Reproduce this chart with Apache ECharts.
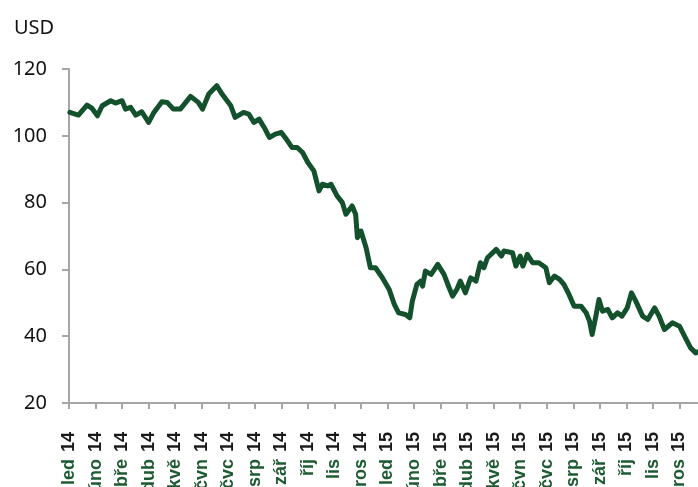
<!DOCTYPE html>
<html>
<head>
<meta charset="utf-8">
<script src="https://cdn.jsdelivr.net/npm/echarts@6/dist/echarts.min.js"></script>
<style>
    html, body { margin: 0; padding: 0; background: #fff; }
    #chart { width: 698px; height: 487px; }
</style>
</head>
<body>
<div id="chart"></div>
<script>
// mesice (cesky), roky
var monthNames = ['led', 'úno', 'bře', 'dub', 'kvě', 'čvn', 'čvc', 'srp', 'zář', 'říj', 'lis', 'pros'];
var startYear = 2014;

// cena ropy Brent, USD
var dates = [
    '2014-01-02', '2014-01-12', '2014-01-22', '2014-01-28', '2014-02-03', '2014-02-08', '2014-02-17', '2014-02-22',
    '2014-03-01', '2014-03-05', '2014-03-11', '2014-03-17', '2014-03-24', '2014-04-01', '2014-04-07', '2014-04-16',
    '2014-04-22', '2014-04-29', '2014-05-07', '2014-05-19', '2014-05-28', '2014-06-02', '2014-06-09', '2014-06-18',
    '2014-06-24', '2014-07-04', '2014-07-09', '2014-07-19', '2014-07-25', '2014-07-31', '2014-08-06', '2014-08-12',
    '2014-08-18', '2014-08-25', '2014-09-01', '2014-09-08', '2014-09-13', '2014-09-19', '2014-09-25', '2014-10-01',
    '2014-10-08', '2014-10-14', '2014-10-18', '2014-10-24', '2014-10-28', '2014-11-04', '2014-11-10', '2014-11-14',
    '2014-11-21', '2014-11-25', '2014-11-27', '2014-12-01', '2014-12-07', '2014-12-12', '2014-12-18', '2014-12-26',
    '2015-01-03', '2015-01-09', '2015-01-14', '2015-01-22', '2015-01-27', '2015-01-30', '2015-02-04', '2015-02-08',
    '2015-02-10', '2015-02-13', '2015-02-19', '2015-02-26', '2015-03-05', '2015-03-11', '2015-03-15', '2015-03-20',
    '2015-03-24', '2015-03-30', '2015-04-05', '2015-04-11', '2015-04-16', '2015-04-20', '2015-04-24', '2015-05-04',
    '2015-05-10', '2015-05-13', '2015-05-23', '2015-05-27', '2015-06-01', '2015-06-04', '2015-06-09', '2015-06-15',
    '2015-06-22', '2015-06-30', '2015-07-04', '2015-07-10', '2015-07-16', '2015-07-21', '2015-07-27', '2015-08-02',
    '2015-08-10', '2015-08-16', '2015-08-20', '2015-08-23', '2015-08-27', '2015-08-31', '2015-09-04', '2015-09-10',
    '2015-09-15', '2015-09-21', '2015-09-26', '2015-10-02', '2015-10-07', '2015-10-12', '2015-10-20', '2015-10-26',
    '2015-11-03', '2015-11-08', '2015-11-14', '2015-11-23', '2015-12-01', '2015-12-09', '2015-12-14', '2015-12-20',
    '2015-12-24', '2015-12-31'
];
var prices = [
    107.0, 106.2, 109.2, 108.2, 106.0, 109.0, 110.5, 109.8,
    110.5, 108.0, 108.5, 106.2, 107.2, 104.0, 107.0, 110.2,
    110.0, 108.0, 108.0, 111.8, 110.0, 108.0, 112.5, 115.0,
    112.5, 109.0, 105.5, 107.0, 106.5, 104.0, 105.0, 102.5,
    99.5, 100.5, 101.0, 98.5, 96.5, 96.5, 95.0, 92.0,
    89.5, 83.5, 85.5, 85.0, 85.5, 82.0, 80.0, 76.5,
    79.0, 76.5, 69.5, 71.5, 66.5, 60.5, 60.5, 57.5,
    54.0, 49.5, 47.0, 46.5, 45.5, 50.5, 55.5, 56.5,
    55.0, 59.5, 58.5, 61.5, 58.5, 54.5, 52.0, 54.0,
    56.5, 53.0, 57.5, 56.5, 62.0, 60.5, 63.5, 66.0,
    64.0, 65.5, 65.0, 61.0, 64.0, 61.0, 64.5, 62.0,
    62.0, 60.5, 56.0, 58.0, 57.0, 55.5, 52.5, 49.0,
    49.0, 47.0, 44.5, 40.5, 45.5, 51.0, 47.5, 48.0,
    45.5, 47.0, 46.0, 48.5, 53.0, 50.5, 46.0, 45.0,
    48.5, 46.0, 42.0, 44.0, 43.0, 39.0, 36.5, 35.0,
    35.5, 37.0
];

// datum -> pozice v mesicich od zacatku osy
function toMonthPos(s) {
    var p = s.split('-').map(i => +i);
    var days = new Date(p[0], p[1], 0).getDate();
    return (p[0] - startYear) * 12 + (p[1] - 1) + (p[2] - 1) / days;
}

var lineData = dates.map((d, i) => [toMonthPos(d), prices[i]]);

var axisGrey = '#a6a6a6';

var option = {
    animation: false,
    title: {
        text: 'USD',
        left: 9,
        top: 13,
        textStyle: {
            fontFamily: 'Noto Sans',
            fontSize: 20,
            fontWeight: 'normal',
            color: '#111'
        }
    },
    grid: {
        left: 69,
        top: 69,
        width: 637,
        height: 334,
        outerBoundsMode: 'none',
        containLabel: false
    },
    xAxis: {
        type: 'value',
        min: 0,
        max: 24,
        interval: 1,
        splitLine: { show: false },
        axisLine: { onZero: false, lineStyle: { color: axisGrey, width: 2 } },
        axisTick: { show: true, length: 6, lineStyle: { color: axisGrey, width: 2 } },
        axisLabel: {
            rotate: 90,
            margin: 29,
            showMinLabel: true,
            showMaxLabel: true,
            formatter: function (v) {
                if (v >= 24) return '';
                var m = monthNames[v % 12];
                var y = (startYear % 100) + Math.floor(v / 12);
                return '{m|' + m + '}{y|' + y + '}';
            },
            rich: {
                m: { color: '#1e5b32', fontWeight: 'bold', fontSize: 18, fontFamily: 'Liberation Sans' },
                y: { color: '#1a1a1a', fontWeight: 'bold', fontSize: 18, fontFamily: 'Liberation Sans', padding: [0, 0, 0, 7] }
            }
        }
    },
    yAxis: {
        type: 'value',
        min: 20,
        max: 120,
        interval: 20,
        splitLine: { show: false },
        axisLine: { show: true, lineStyle: { color: axisGrey, width: 2 } },
        axisTick: { show: true, length: 7, lineStyle: { color: axisGrey, width: 2 } },
        axisLabel: {
            margin: 22,
            fontFamily: 'Noto Sans',
            fontSize: 20,
            color: '#111'
        }
    },
    series: [{
        type: 'line',
        data: lineData,
        symbol: 'none',
        lineStyle: { color: '#13512c', width: 5, join: 'round', cap: 'round' }
    }]
};

var chart = echarts.init(document.getElementById('chart'));
chart.setOption(option);
</script>
</body>
</html>
